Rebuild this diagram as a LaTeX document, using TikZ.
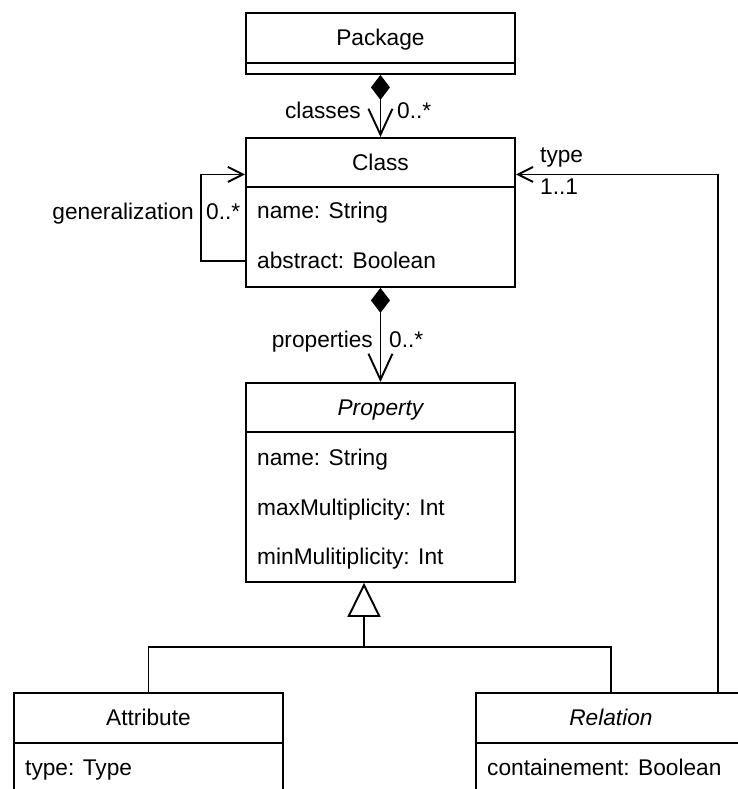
\documentclass[tikz,border=0pt]{standalone}
\usepackage{fontspec}
\setmainfont{Liberation Sans}
\usetikzlibrary{arrows.meta}
\begin{document}
\begin{tikzpicture}[x=1pt,y=-1pt,
  every node/.style={font=\fontsize{22.7}{27}\selectfont, text height=20.5pt, text depth=4.8pt, inner sep=0pt},
  box/.style={draw, line width=1.9pt, minimum width=269pt, anchor=north west},
  rowtext/.style={anchor=west},
  lbl/.style={},
  ln/.style={line width=1.9pt},
  comp/.style={ln, {Diamond[length=25pt,width=19pt]}-{Straight Barb[length=26pt,width=24pt]}},
  assoc/.style={ln, -{Straight Barb[length=15pt,width=15pt]}},
  gen/.style={ln, -{Triangle[open,length=34pt,width=33pt]}}
]
\useasboundingbox (0,0) rectangle (737,789);

% Package
\node[box, minimum height=50pt] (pkg) at (245,12) {Package};
\node[box, minimum height=11pt, text height=0pt, text depth=0pt] (pkgb) at (245,62) {};

% Class
\node[box, minimum height=49pt] (cls) at (245,137) {Class};
\node[box, minimum height=100pt, text height=0pt, text depth=0pt] (clsb) at (245,186) {};
\node[rowtext] (cname) at (257,211) {name: String};
\node[rowtext] (cabs) at (257,261) {abstract: Boolean};

% Property
\node[box, minimum height=49pt] (prop) at (245,382) {\itshape Property};
\node[box, minimum height=150pt, text height=0pt, text depth=0pt] (propb) at (245,431) {};
\node[rowtext] (pname) at (257,458) {name: String};
\node[rowtext] (pmax) at (257,508) {maxMultiplicity: Int};
\node[rowtext] (pmin) at (257,557) {minMulitiplicity: Int};

% Attribute
\node[box, minimum height=50pt] (attr) at (13,692) {Attribute};
\node[box, minimum height=70pt, text height=0pt, text depth=0pt] (attrb) at (13,742) {};
\node[rowtext] (atype) at (25,768) {type: Type};

% Relation
\node[box, minimum height=50pt, minimum width=270pt] (rel) at (475,692) {\itshape Relation};
\node[box, minimum height=70pt, minimum width=270pt, text height=0pt, text depth=0pt] (relb) at (475,742) {};
\node[rowtext] (rcont) at (487,768) {containement: Boolean};

% Connectors
\draw[comp] (pkgb.south) -- (cls.north);
\node[lbl, anchor=base east] (lclasses) at (361,118) {classes};
\node[lbl, anchor=base west] (mclasses) at (397,118) {0..*};

\draw[comp] (clsb.south) -- (prop.north);
\node[lbl, anchor=base east] (lprops) at (373,347) {properties};
\node[lbl, anchor=base west] (mprops) at (389,347) {0..*};

\draw[assoc] (cabs.west -| clsb.west) -- ++(-44,0) |- ([yshift=-12pt]cls.west);
\node[lbl, anchor=base east] (lgen) at (194,219) {generalization};
\node[lbl, anchor=base west] (mgen) at (206,219) {0..*};

\draw[assoc] ([xshift=-28.5pt]rel.north east) |- ([yshift=-12pt]cls.east);
\node[lbl, anchor=base west] (ltype) at (540,162) {type};
\node[lbl, anchor=base west] (mtype) at (540,194) {1..1};

\coordinate (gj) at (364,647);
\draw[ln] (attr.north) |- (gj) -| (rel.north);
\draw[gen] (gj) -- (gj |- propb.south);
\end{tikzpicture}
\end{document}
